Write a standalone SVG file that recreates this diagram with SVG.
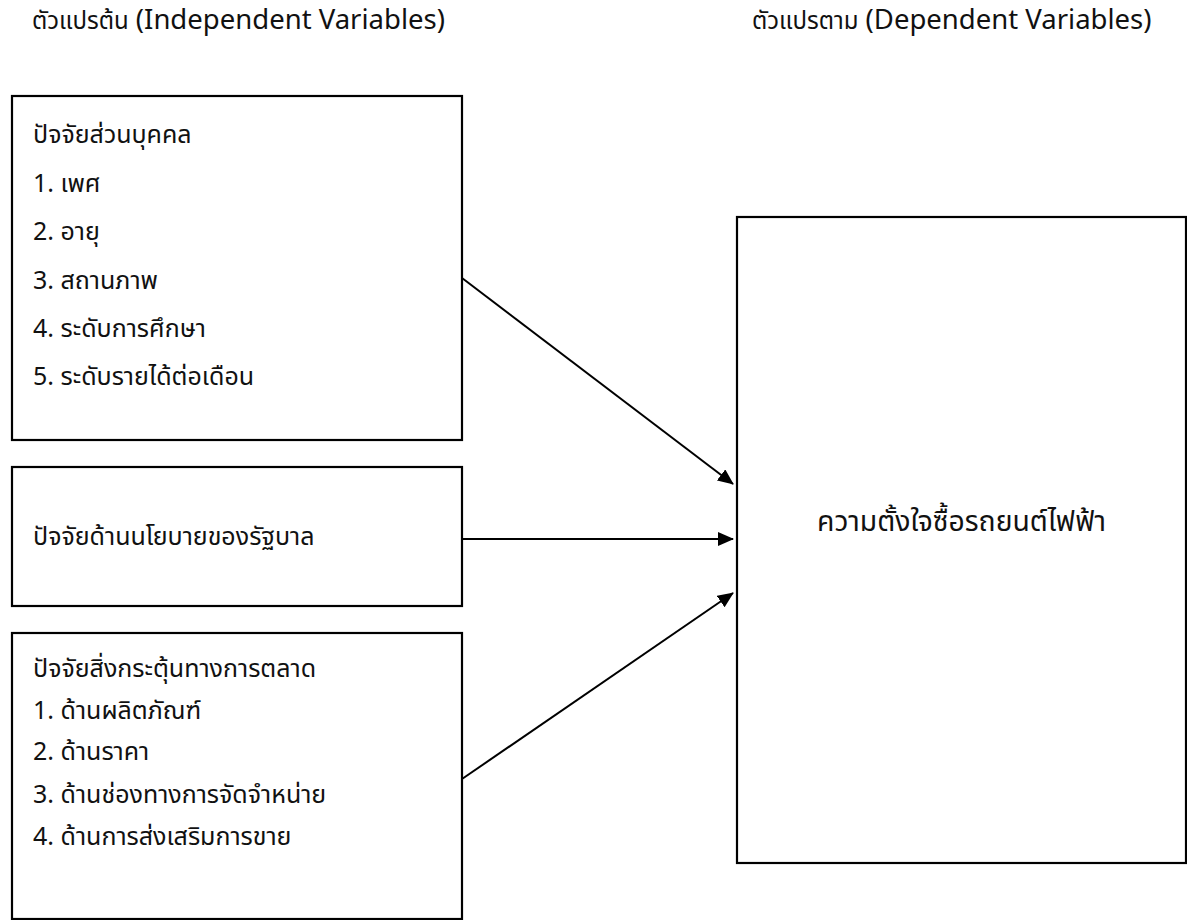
<svg xmlns="http://www.w3.org/2000/svg" width="1187" height="920" viewBox="0 0 1187 920">
  <style>
    text { font-family: "Noto Sans Thai", "Leelawadee UI", Tahoma, "Noto Sans", "DejaVu Sans", sans-serif; font-size: 25px; fill: #111; }
    .th { font-size: 24px; }
    .en { font-size: 27.5px; }
    .big { font-size: 28.3px; }
    .box { fill: #fff; stroke: #000; stroke-width: 2.2; }
    .link { stroke: #000; stroke-width: 2; fill: none; marker-end: url(#head); }
  </style>
  <defs>
    <marker id="head" markerUnits="userSpaceOnUse" markerWidth="16" markerHeight="14" refX="15" refY="7" orient="auto">
      <path d="M0,0 L16,7 L0,14 z" fill="#000"/>
    </marker>
  </defs>
  <rect width="1187" height="920" fill="#fff"/>

  <!-- column headings -->
  <text x="32" y="29"><tspan class="th">ตัวแปรต้น</tspan><tspan class="en"> (Independent Variables)</tspan></text>
  <text x="752" y="29"><tspan class="th">ตัวแปรตาม</tspan><tspan class="en"> (Dependent Variables)</tspan></text>

  <!-- personal factors -->
  <g id="personal">
    <rect class="box" x="12" y="96" width="450" height="344"/>
    <text x="33" y="143">ปัจจัยส่วนบุคคล</text>
    <text x="33" y="192">1. เพศ</text>
    <text x="33" y="240">2. อายุ</text>
    <text x="33" y="289">3. สถานภาพ</text>
    <text x="33" y="337">4. ระดับการศึกษา</text>
    <text x="33" y="385">5. ระดับรายได้ต่อเดือน</text>
  </g>

  <!-- government policy -->
  <g id="policy">
    <rect class="box" x="12" y="467" width="450" height="139"/>
    <text x="33" y="545">ปัจจัยด้านนโยบายของรัฐบาล</text>
  </g>

  <!-- marketing stimuli -->
  <g id="marketing">
    <rect class="box" x="12" y="633" width="450" height="286"/>
    <text x="33" y="677">ปัจจัยสิ่งกระตุ้นทางการตลาด</text>
    <text x="33" y="719">1. ด้านผลิตภัณฑ์</text>
    <text x="33" y="760">2. ด้านราคา</text>
    <text x="33" y="803">3. ด้านช่องทางการจัดจำหน่าย</text>
    <text x="33" y="845">4. ด้านการส่งเสริมการขาย</text>
  </g>

  <!-- purchase intention -->
  <g id="intention">
    <rect class="box" x="737" y="217" width="449" height="646"/>
    <text class="big" x="961.5" y="531" text-anchor="middle">ความตั้งใจซื้อรถยนต์ไฟฟ้า</text>
  </g>

  <g id="connectors">
    <line class="link" x1="462" y1="278" x2="733" y2="484"/>
    <line class="link" x1="462" y1="539" x2="733" y2="539"/>
    <line class="link" x1="462" y1="779" x2="733" y2="593"/>
  </g>
</svg>
